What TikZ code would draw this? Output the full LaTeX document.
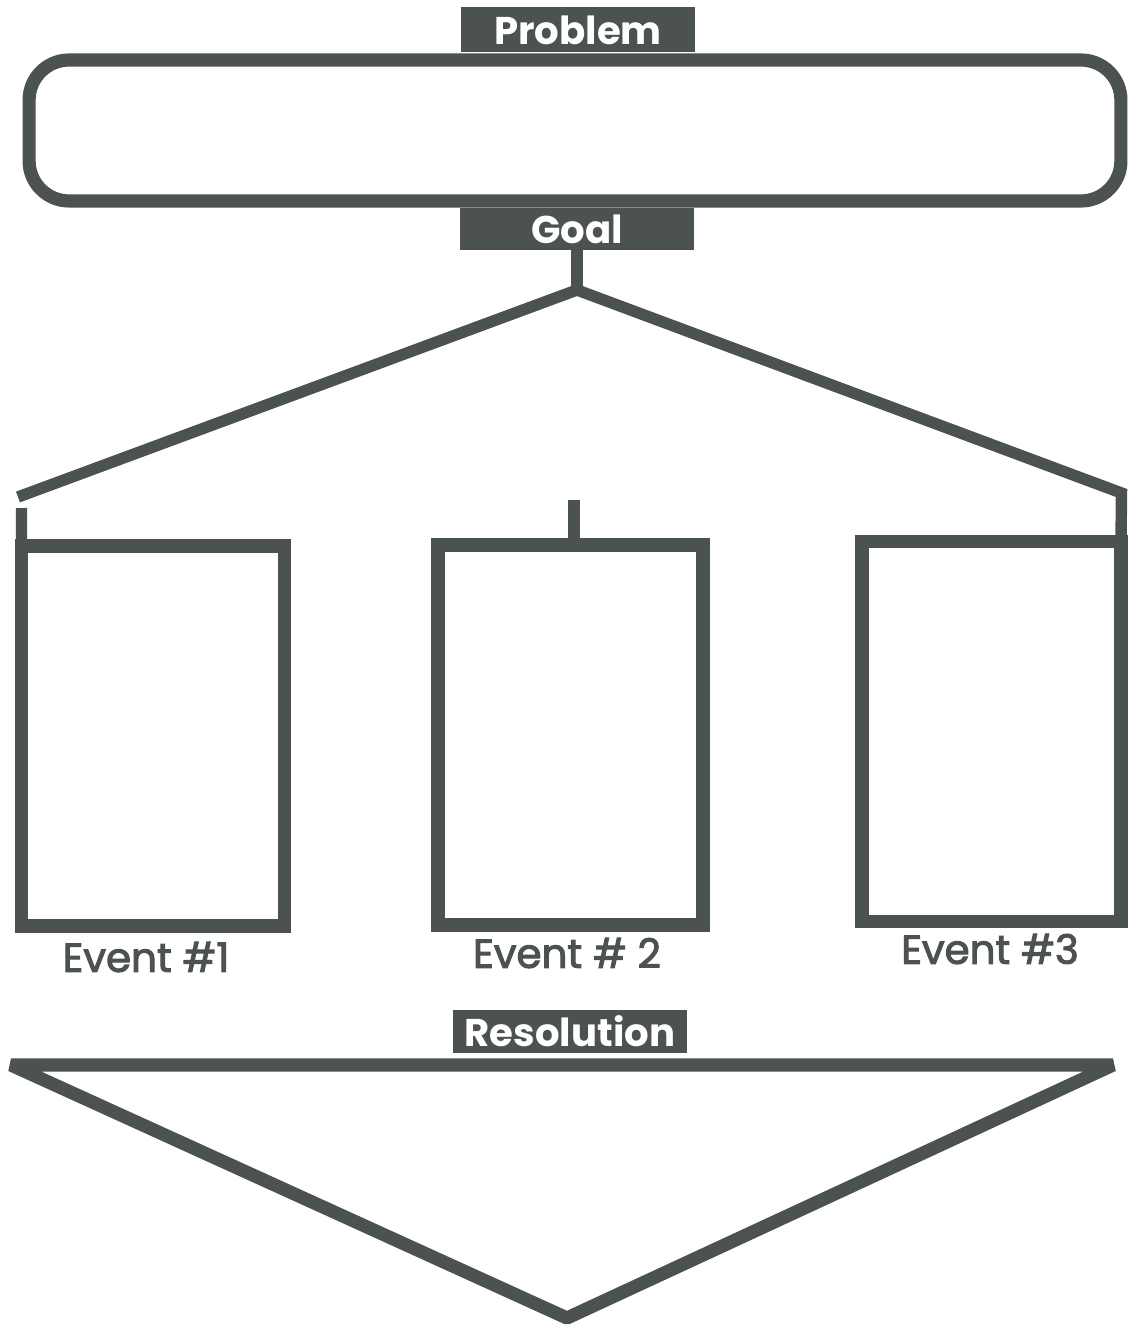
\documentclass[tikz,border=0pt]{standalone}
\usepackage{fontspec}
\setmainfont{Poppins}
\newfontfamily\eventfont{Poppins}[FakeBold=2.5]
\usepackage{tikz}
\usetikzlibrary{positioning}

\definecolor{scan}{RGB}{76,81,81}

\begin{document}
\begin{tikzpicture}[x=0.02cm,y=-0.02cm,
		frame/.style={draw=scan,line width=7.5pt},
		link/.style={draw=scan,line width=6.5pt},
		tag/.style={fill=scan,text=white,inner sep=0pt,minimum width=4.7cm,minimum height=0.9cm,font=\fontsize{22}{22}\selectfont\bfseries},
		eventbox/.style={frame,inner sep=0pt,outer sep=0pt,minimum width=5.26cm,minimum height=7.6cm},
		eventlabel/.style={text=scan,font=\fontsize{23}{23}\eventfont}]
		\useasboundingbox [fill=white] (0,0) rectangle (1128,1334);
		% problem and goal
		\node (problem box) at (575,130.5) [frame,rounded corners=0.8cm,inner sep=0pt,minimum width=21.84cm,minimum height=2.82cm] {};
		\node (problem) at (578,30) [tag] {Problem};
		\node (goal) at (577,229) [tag,minimum height=0.84cm] {Goal};
		% events
		\node (event1) at (153,736) [eventbox] {};
		\node (event2) at (570.5,735) [eventbox,minimum width=5.3cm] {};
		\node (event3) at (991.5,731.5) [eventbox,minimum width=5.18cm] {};
		\node (label1) at (146,957) [eventlabel] {Event \#1};
		\node (label2) at (567,953) [eventlabel] {Event \# 2};
		\node (label3) at (990,949) [eventlabel] {Event \#3};
		% branches
		\coordinate (fork) at (577,290);
		\coordinate (left end) at (18,497);
		\coordinate (left stub) at (21.5,508);
		\coordinate (right end) at (1121.5,493);
		\coordinate (mid stub) at (574,500);
		\draw [link] (goal.south) -- (fork);
		\draw [link] (fork) -- (left end);
		\draw [link] (left stub) -- (event1.north west);
		\draw [link,line join=miter] (fork) -- (right end) -- (event3.north east);
		\draw [link] (mid stub) -- (mid stub |- event2.north);
		% resolution
		\coordinate (res left) at (11,1065);
		\coordinate (res right) at (1113,1065);
		\coordinate (res tip) at (567,1318);
		\draw [frame,line join=bevel] (res left) -- (res right) -- (res tip) -- cycle;
		\node (resolution) at (570,1031.5) [tag,minimum height=0.86cm] {Resolution};
	\end{tikzpicture}
\end{document}
